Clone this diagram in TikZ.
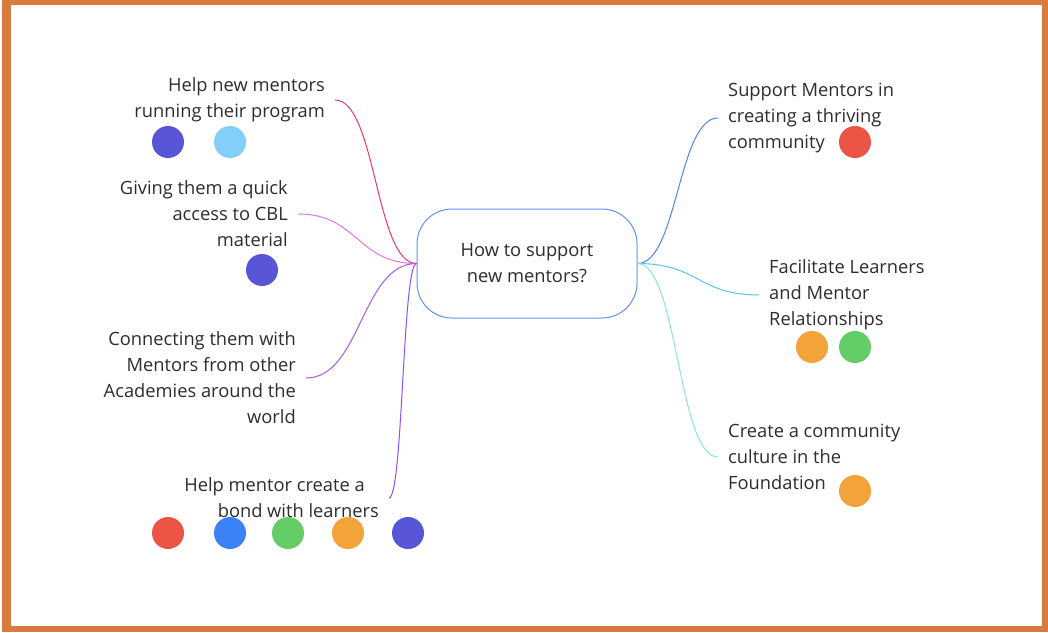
\documentclass[tikz,border=0pt]{standalone}
\usepackage{fontspec}
\setmainfont{Open Sans}
\usetikzlibrary{positioning}
\begin{document}
\begin{tikzpicture}[x=1pt,y=-1pt,
  txt/.style={font=\fontsize{18.3}{26}\selectfont,text=kText,inner xsep=10pt,inner ysep=0pt},
  lnk/.style={line width=1pt}]
  % colors
  \definecolor{kText}{RGB}{45,45,45}
  \definecolor{kFrame}{RGB}{217,123,63}
  \definecolor{kRoot}{RGB}{100,145,245}
  \definecolor{kRed}{RGB}{235,85,69}
  \definecolor{kBlue}{RGB}{58,130,246}
  \definecolor{kGreen}{RGB}{101,205,102}
  \definecolor{kOrange}{RGB}{242,163,58}
  \definecolor{kPurple}{RGB}{88,86,214}
  \definecolor{kSky}{RGB}{129,207,250}
  \definecolor{kPink}{RGB}{232,55,120}
  \definecolor{kOrchid}{RGB}{230,120,230}
  \definecolor{kViolet}{RGB}{165,90,240}
  \definecolor{kIndigo}{RGB}{140,80,245}
  \definecolor{kLine}{RGB}{80,130,240}
  \definecolor{kCyan}{RGB}{90,195,245}
  \definecolor{kMint}{RGB}{140,230,215}
  % frame
  \useasboundingbox (0,0) rectangle (1048,632);
  \fill[kFrame] (2,0) rectangle (1048,632);
  \fill[white] (11,5) rectangle (1042,626);
  % root
  \node[txt,draw=kRoot,line width=1pt,rounded corners=35pt,minimum width=220pt,
    minimum height=109pt,align=center,inner xsep=0pt] (root) at (527,263.5)
    {How to support\\new mentors?};
  % left branches
  \node[txt,anchor=east,align=right] (help) at (335,100) {Help new mentors\\running their program};
  \node[txt,anchor=east,align=right] (quick) at (298,214) {Giving them a quick\\access to CBL\\material};
  \node[txt,anchor=east,align=right] (connect) at (306,378) {Connecting them with\\Mentors from other\\Academies around the\\world};
  \node[txt,anchor=east,align=right] (bond) at (389,498) {Help mentor create a\kern14pt\\bond with learners};
  % right branches
  \node[txt,anchor=west,align=left] (thrive) at (718,118) {Support Mentors in\\creating a thriving\\community};
  \node[txt,anchor=west,align=left] (relate) at (759,295) {Facilitate Learners\\and Mentor\\Relationships};
  \node[txt,anchor=west,align=left] (culture) at (718,457) {Create a community\\culture in the\\Foundation};
  % links
  \draw[lnk,kPink] (help.east) .. controls +(41,0) and +(-41,0) .. (root.west);
  \draw[lnk,kOrchid] (quick.east) .. controls +(60,0) and +(-60,0) .. (root.west);
  \draw[lnk,kViolet] (connect.east) .. controls +(55,0) and +(-55,0) .. (root.west);
  \draw[lnk,kIndigo] (bond.east) .. controls +(14,0) and +(-14,0) .. (root.west);
  \draw[lnk,kLine] (root.east) .. controls +(40,0) and +(-40,0) .. (thrive.west);
  \draw[lnk,kCyan] (root.east) .. controls +(61,0) and +(-61,0) .. (relate.west);
  \draw[lnk,kMint] (root.east) .. controls +(40,0) and +(-40,0) .. (culture.west);
  % dots
  \fill[kPurple] (168,142) circle (16);
  \fill[kSky] (230,142) circle (16);
  \fill[kPurple] (262,270) circle (16);
  \fill[kRed] (168,533) circle (16);
  \fill[kBlue] (230,533) circle (16);
  \fill[kGreen] (288,533) circle (16);
  \fill[kOrange] (348,533) circle (16);
  \fill[kPurple] (408,533) circle (16);
  \fill[kRed] (855,142) circle (16);
  \fill[kOrange] (812,347) circle (16);
  \fill[kGreen] (855,347) circle (16);
  \fill[kOrange] (855,491) circle (16);
\end{tikzpicture}
\end{document}
